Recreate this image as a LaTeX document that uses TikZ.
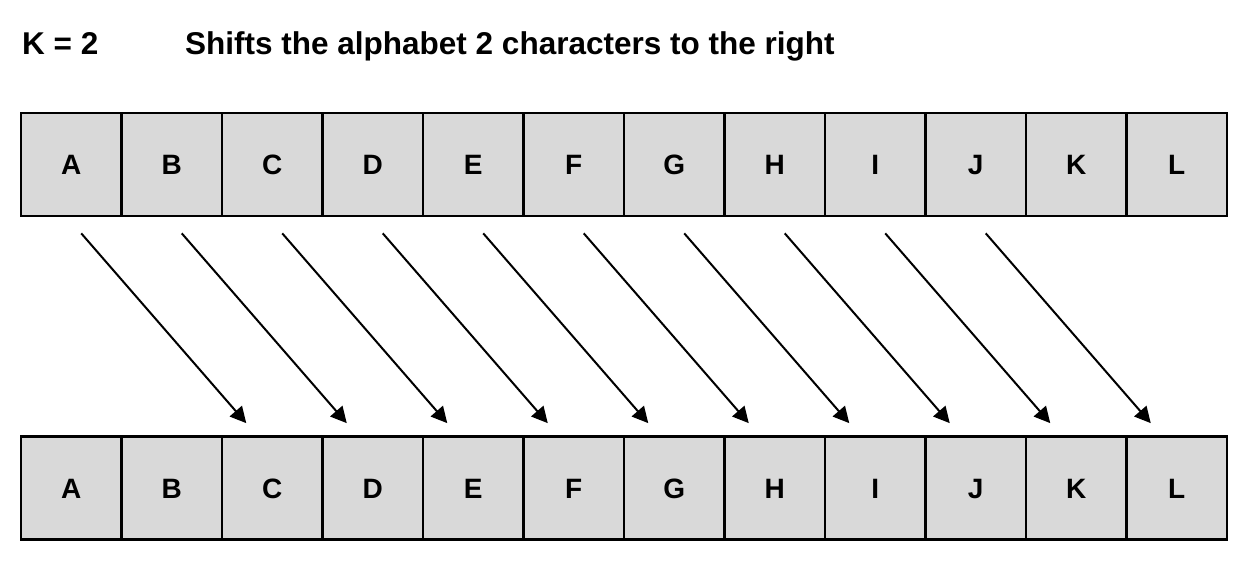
\documentclass[tikz,border=0pt]{standalone}
\usepackage{fontspec}
\setmainfont{Liberation Sans}
\usetikzlibrary{calc,arrows.meta}
\definecolor{cellgray}{HTML}{D9D9D9}
\tikzset{
  cell/.style={draw, fill=cellgray, line width=2.7pt, minimum width=100.5pt,
    minimum height=103pt, inner sep=0pt, text height=20pt, text depth=0pt,
    font=\fontsize{28}{32}\selectfont\bfseries},
  title/.style={anchor=base west, inner sep=0pt, font=\fontsize{31.5}{36}\selectfont\bfseries},
  shiftarrow/.style={line width=2pt, -{Triangle[length=16pt,width=16pt]}}
}
\begin{document}
\begin{tikzpicture}[x=1pt,y=-1pt]
  \useasboundingbox (0,0) rectangle (1254,588);
  \node[title] (key) at (22,55) {K = 2};
  \node[title] (caption) at (185,55) {Shifts the alphabet 2 characters to the right};
  % the two alphabets
  \foreach \ch [count=\i] in {A,B,C,D,E,F,G,H,I,J,K,L} {
    \node[cell] (t\i) at ({21+100.5*(\i-0.5)},164.5) {\ch};
    \node[cell] (b\i) at ({21+100.5*(\i-0.5)},488) {\ch};
  }
  % shift by K
  \foreach \i [evaluate=\i as \j using int(\i+2)] in {1,...,10}
    \draw[shiftarrow] ($(t\i.south)+(10,16)$) -- ($(b\j.north)+(-26,-12)$);
\end{tikzpicture}
\end{document}
